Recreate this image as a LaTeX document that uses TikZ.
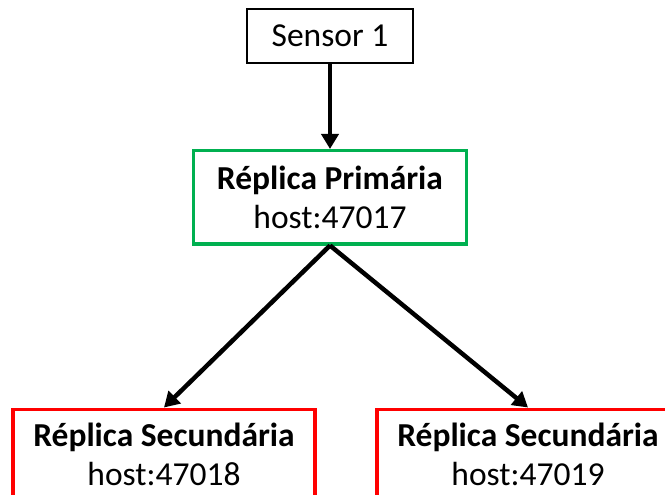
\documentclass[tikz,border=0pt]{standalone}
\usepackage{fontspec}
\setmainfont{Carlito}
\usetikzlibrary{
    arrows.meta,            % Triangle arrow tips.
    positioning             % Relative positioning of nodes.
}
\definecolor{officegreen}{HTML}{00B050}
\tikzset{
    sensorbox/.style={draw=black, line width=2pt, minimum width=166pt,
        minimum height=54pt, inner sep=0pt},
    primbox/.style={draw=officegreen, line width=3.5pt, minimum width=273pt,
        minimum height=93pt, inner sep=0pt, align=center},
    secbox/.style={draw=red, line width=3.5pt, minimum width=302pt,
        minimum height=130pt, inner sep=0pt, align=center},
    link/.style={->, line width=4.5pt}
}
\begin{document}
\begin{tikzpicture}[>={Triangle[width=17pt,length=15pt]},
        font=\fontsize{33.5}{39}\selectfont]
                \useasboundingbox (0,0) rectangle (665pt,-495pt);
                \clip (0,0) rectangle (665pt,-495pt);
                \node[sensorbox] (sensor) at (330pt,-36pt) {Sensor 1};
                \node[primbox, below=85pt of sensor] (prim)
                    {\textbf{Réplica Primária}\\host:47017};
                \node[secbox, below=162pt of prim, xshift=-166pt] (secA)
                    {\textbf{Réplica Secundária}\\host:47018\rule[-41pt]{0pt}{41pt}};
                \node[secbox, below=162pt of prim, xshift=198pt] (secB)
                    {\textbf{Réplica Secundária}\\host:47019\rule[-41pt]{0pt}{41pt}};
                \draw[link] (sensor) to (prim);
                \draw[link] (prim.south) to (secA.north);
                \draw[link] (prim.south) to (secB.north);
            \end{tikzpicture}
\end{document}
